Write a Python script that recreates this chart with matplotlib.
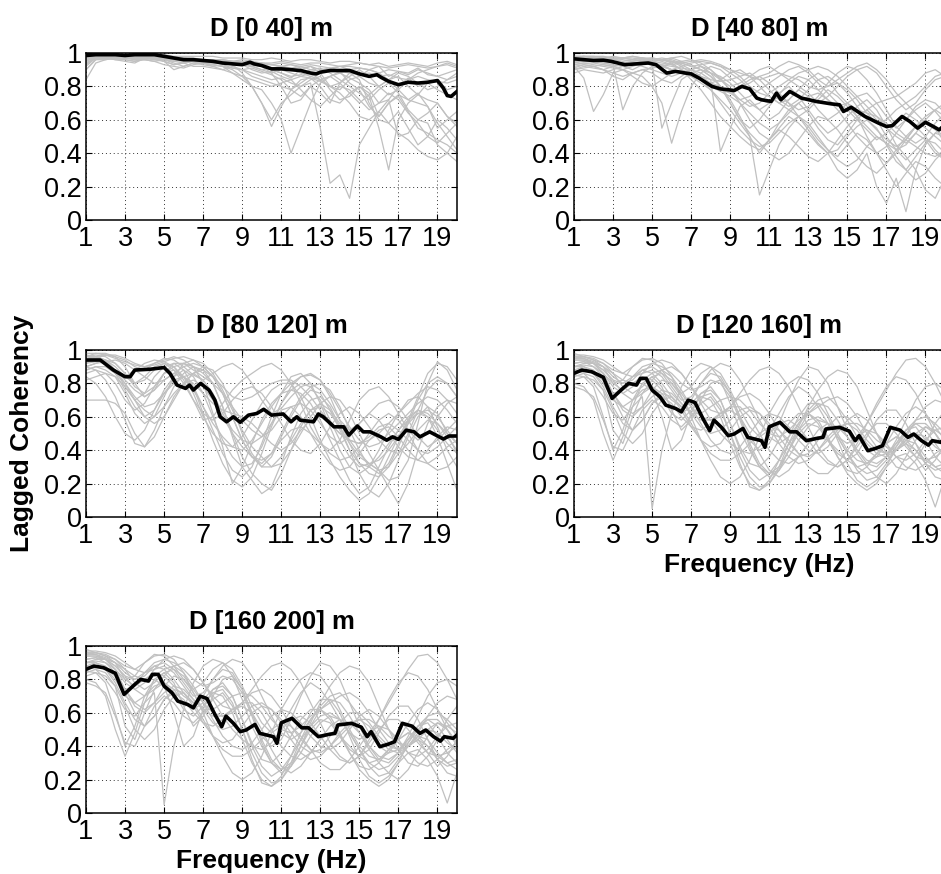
import matplotlib
matplotlib.use('Agg')
import matplotlib.pyplot as plt
import numpy as np

plt.rcParams['font.family'] = ['Liberation Sans', 'DejaVu Sans']

# ---------------- data ----------------
titles = ['D [0 40] m', 'D [40 80] m', 'D [80 120] m', 'D [120 160] m', 'D [160 200] m']
x_ticks = [1, 3, 5, 7, 9, 11, 13, 15, 17, 19]
y_ticks = [0, 0.2, 0.4, 0.6, 0.8, 1]
y_tick_labels = ['0', '0.2', '0.4', '0.6', '0.8', '1']
x_label = 'Frequency (Hz)'
y_label = 'Lagged Coherency'

# mean coherency (black), read at frequency points (Hz)
p1_black_f = [1, 1.5, 2, 2.5, 3, 3.5, 4, 4.5, 5, 5.5, 6, 6.5, 7, 7.5, 8, 8.5, 9, 9.4, 9.6, 10,
              10.5, 11, 11.5, 12, 12.5, 12.8, 13, 13.5, 14, 14.5, 15, 15.5, 15.9, 16.1, 16.5, 17,
              17.5, 18, 18.5, 19, 19.3, 19.5, 19.7, 20]
p1_black_v = [0.985, 0.99, 0.99, 0.99, 0.985, 0.99, 0.99, 0.99, 0.98, 0.97, 0.96, 0.96, 0.955,
              0.95, 0.94, 0.935, 0.93, 0.945, 0.935, 0.925, 0.905, 0.905, 0.90, 0.895, 0.88, 0.875,
              0.885, 0.895, 0.895, 0.895, 0.875, 0.86, 0.87, 0.855, 0.83, 0.81, 0.825, 0.82, 0.825,
              0.835, 0.79, 0.745, 0.74, 0.77]

p2_black_f = [1, 1.5, 2, 2.5, 2.9, 3.6, 4.2, 4.8, 5.2, 5.75, 6.2, 6.7, 7.0, 7.4, 8.06, 8.5, 8.9,
              9.2, 9.6, 10.0, 10.36, 10.6, 11.1, 11.37, 11.6, 12.05, 12.65, 13.4, 14.2, 14.6, 14.8,
              15.2, 15.9, 16.6, 17.0, 17.3, 17.8, 18.2, 18.6, 19.0, 19.4, 19.7, 20]
p2_black_v = [0.965, 0.96, 0.955, 0.957, 0.95, 0.93, 0.935, 0.94, 0.93, 0.88, 0.89, 0.88, 0.875,
              0.85, 0.80, 0.785, 0.78, 0.775, 0.80, 0.785, 0.73, 0.72, 0.71, 0.76, 0.72, 0.77, 0.73,
              0.71, 0.695, 0.69, 0.65, 0.675, 0.62, 0.58, 0.56, 0.565, 0.62, 0.59, 0.55, 0.585,
              0.56, 0.54, 0.57]

p3_black_f = [1, 1.73, 2.4, 3.0, 3.26, 3.5, 4.3, 5.0, 5.3, 5.66, 6.1, 6.3, 6.5, 6.87, 7.3, 7.6,
              7.87, 8.2, 8.55, 8.9, 9.32, 9.75, 10.1, 10.5, 11.1, 11.5, 11.8, 11.96, 12.65, 12.9,
              13.15, 13.7, 14.2, 14.46, 14.9, 15.2, 15.55, 16.1, 16.4, 16.7, 17.0, 17.4, 17.8,
              18.1, 18.6, 19.3, 19.6, 20]
p3_black_v = [0.94, 0.94, 0.88, 0.84, 0.84, 0.88, 0.885, 0.895, 0.86, 0.79, 0.77, 0.79, 0.76,
              0.80, 0.76, 0.70, 0.60, 0.57, 0.60, 0.567, 0.61, 0.62, 0.645, 0.61, 0.617, 0.57,
              0.60, 0.58, 0.57, 0.617, 0.60, 0.54, 0.54, 0.49, 0.545, 0.51, 0.51, 0.48, 0.46, 0.48,
              0.465, 0.52, 0.51, 0.48, 0.51, 0.467, 0.485, 0.485]

p4_black_f = [1, 1.4, 1.9, 2.5, 2.95, 3.5, 3.8, 4.2, 4.4, 4.7, 5.0, 5.4, 5.7, 6.2, 6.5, 6.85, 7.2,
              7.6, 7.95, 8.17, 8.55, 8.9, 9.2, 9.65, 9.9, 10.25, 10.6, 10.78, 11.0, 11.55, 12.05,
              12.4, 12.9, 13.4, 13.75, 13.9, 14.6, 15.1, 15.4, 15.6, 16.05, 16.5, 16.8, 17.2, 17.7,
              18.1, 18.4, 18.8, 19.15, 19.35, 19.8, 20]
p4_black_v = [0.86, 0.88, 0.87, 0.837, 0.71, 0.77, 0.80, 0.79, 0.83, 0.83, 0.76, 0.72, 0.67, 0.65,
              0.63, 0.70, 0.685, 0.59, 0.517, 0.58, 0.537, 0.487, 0.497, 0.53, 0.477, 0.467, 0.457,
              0.417, 0.54, 0.567, 0.51, 0.51, 0.457, 0.47, 0.477, 0.527, 0.537, 0.514, 0.457,
              0.487, 0.397, 0.413, 0.427, 0.537, 0.52, 0.477, 0.497, 0.457, 0.43, 0.457, 0.447,
              0.467]
# the [160 200] m panel shows the same curves as the [120 160] m panel
p5_black_f = p4_black_f
p5_black_v = p4_black_v

# individual pair coherencies (grey), percent, every 0.5 Hz from 1 to 20 Hz
p1_gray_pct = [
    [97, 99, 99, 99, 99, 99, 99, 99, 99, 98, 98, 98, 98, 98, 97, 97, 97, 96, 96, 97, 96, 95, 96, 96, 95, 94, 95, 95, 94, 93, 94, 92, 93, 94, 93, 92, 94, 95, 93],
    [93, 98, 98, 98, 97, 98, 98, 98, 97, 97, 97, 96, 96, 95, 95, 94, 93, 92, 94, 93, 92, 93, 91, 92, 90, 91, 88, 90, 91, 90, 92, 86, 89, 88, 91, 87, 86, 88, 90],
    [84, 94, 96, 97, 96, 95, 97, 97, 95, 93, 94, 95, 94, 93, 92, 91, 90, 88, 86, 84, 85, 82, 80, 84, 86, 78, 72, 74, 80, 76, 62, 70, 75, 72, 70, 68, 55, 60, 65],
    [90, 96, 97, 96, 95, 94, 97, 96, 97, 96, 95, 95, 94, 93, 92, 88, 84, 80, 78, 70, 60, 40, 55, 70, 82, 86, 88, 85, 82, 78, 70, 72, 50, 52, 60, 58, 45, 40, 50],
    [95, 98, 98, 98, 97, 97, 98, 97, 96, 95, 96, 95, 94, 93, 92, 90, 86, 80, 70, 60, 70, 75, 80, 82, 55, 22, 27, 13, 45, 55, 65, 72, 80, 85, 80, 82, 78, 75, 72],
    [96, 98, 97, 98, 98, 97, 98, 98, 97, 96, 96, 95, 95, 94, 94, 93, 88, 80, 70, 56, 68, 78, 84, 85, 80, 72, 70, 76, 80, 74, 55, 30, 60, 70, 75, 72, 70, 62, 58],
    [98, 99, 99, 99, 98, 98, 99, 98, 97, 96, 97, 96, 95, 95, 96, 95, 94, 93, 92, 90, 88, 85, 90, 92, 88, 80, 78, 84, 86, 90, 88, 84, 86, 80, 75, 82, 84, 78, 80],
    [97, 98, 98, 97, 98, 96, 97, 97, 96, 94, 92, 94, 93, 92, 93, 91, 90, 91, 89, 87, 84, 78, 82, 86, 84, 86, 89, 82, 78, 68, 62, 70, 74, 65, 55, 52, 48, 45, 40],
    [96, 98, 99, 98, 98, 98, 97, 96, 95, 90, 92, 94, 95, 94, 95, 94, 93, 92, 90, 88, 90, 88, 86, 85, 83, 80, 76, 70, 62, 60, 65, 58, 52, 48, 42, 38, 36, 40, 35],
    [92, 97, 97, 98, 98, 97, 98, 98, 97, 96, 95, 96, 95, 95, 94, 94, 93, 92, 93, 93, 92, 91, 92, 90, 89, 90, 89, 88, 87, 88, 86, 87, 85, 84, 86, 84, 83, 82, 84],
    [95, 98, 98, 97, 98, 98, 98, 97, 96, 97, 96, 95, 95, 94, 95, 94, 93, 90, 88, 89, 86, 84, 86, 88, 84, 80, 82, 86, 90, 86, 80, 75, 78, 84, 88, 90, 92, 94, 92],
    [94, 97, 98, 98, 97, 97, 96, 97, 95, 93, 94, 95, 96, 96, 95, 95, 94, 93, 92, 88, 80, 70, 72, 80, 76, 70, 82, 88, 84, 70, 60, 58, 65, 55, 45, 50, 60, 55, 48],
    [97, 99, 99, 99, 99, 99, 99, 98, 98, 97, 97, 97, 96, 96, 96, 95, 95, 94, 94, 93, 94, 93, 92, 93, 92, 91, 92, 92, 91, 90, 88, 90, 89, 87, 90, 88, 86, 84, 88],
    [93, 97, 97, 96, 96, 95, 96, 95, 96, 95, 94, 92, 92, 91, 90, 92, 90, 86, 84, 82, 80, 78, 74, 80, 84, 86, 82, 76, 70, 75, 80, 84, 78, 72, 76, 68, 58, 50, 42],
    [96, 98, 98, 97, 97, 98, 98, 97, 97, 96, 95, 96, 96, 95, 94, 93, 94, 92, 90, 91, 92, 90, 88, 86, 88, 90, 92, 90, 86, 82, 80, 84, 88, 86, 82, 78, 80, 84, 86],
    [94, 97, 97, 98, 97, 96, 97, 98, 98, 97, 96, 95, 95, 96, 95, 94, 94, 93, 92, 90, 88, 86, 87, 90, 91, 88, 84, 80, 76, 72, 78, 82, 76, 66, 60, 64, 70, 62, 56],
    [98, 99, 99, 98, 99, 99, 98, 98, 98, 97, 97, 96, 96, 96, 95, 95, 96, 95, 94, 94, 95, 94, 93, 94, 94, 93, 92, 93, 94, 93, 92, 91, 92, 93, 92, 91, 92, 93, 91],
    [90, 96, 96, 97, 97, 96, 96, 95, 93, 92, 91, 93, 94, 92, 90, 88, 86, 84, 82, 80, 82, 84, 78, 72, 68, 74, 80, 78, 72, 66, 70, 76, 72, 64, 58, 50, 46, 52, 58],
]

p2_gray_pct = [
    [92, 85, 65, 75, 88, 90, 92, 94, 95, 96, 97, 98, 96, 92, 88, 84, 80, 82, 86, 90, 92, 88, 84, 80, 76, 70, 74, 80, 86, 90, 92, 88, 80, 72, 66, 70, 78, 84, 86],
    [97, 98, 98, 97, 96, 95, 96, 97, 97, 96, 95, 94, 92, 93, 94, 92, 88, 84, 78, 72, 70, 75, 82, 86, 84, 78, 72, 68, 70, 74, 76, 70, 62, 55, 60, 66, 70, 65, 58],
    [95, 96, 95, 94, 93, 66, 80, 88, 92, 93, 90, 88, 86, 82, 78, 72, 66, 58, 50, 40, 48, 58, 66, 70, 64, 55, 48, 45, 52, 60, 66, 60, 50, 42, 45, 52, 48, 40, 36],
    [98, 98, 97, 96, 97, 96, 95, 96, 94, 55, 70, 84, 88, 90, 86, 80, 72, 62, 50, 15, 30, 45, 55, 62, 58, 50, 42, 38, 45, 52, 48, 40, 30, 20, 28, 35, 32, 25, 20],
    [93, 94, 93, 92, 91, 90, 88, 86, 80, 70, 46, 65, 80, 88, 92, 90, 85, 80, 82, 86, 88, 92, 95, 93, 90, 84, 80, 84, 88, 92, 94, 90, 84, 76, 70, 74, 80, 86, 88],
    [90, 92, 91, 90, 92, 93, 94, 92, 90, 88, 86, 88, 90, 92, 90, 85, 78, 70, 60, 52, 48, 55, 62, 58, 52, 45, 40, 42, 50, 56, 60, 55, 45, 35, 30, 38, 46, 52, 50],
    [96, 97, 96, 95, 96, 97, 96, 95, 94, 93, 92, 91, 90, 88, 84, 41, 55, 68, 72, 66, 60, 64, 72, 78, 74, 66, 60, 64, 70, 62, 50, 40, 34, 40, 48, 56, 60, 55, 46],
    [94, 95, 95, 96, 95, 94, 93, 95, 96, 97, 96, 94, 92, 90, 88, 86, 82, 76, 70, 66, 70, 74, 70, 62, 54, 46, 40, 30, 25, 30, 40, 20, 10, 25, 5, 30, 45, 52, 58],
    [88, 90, 89, 88, 90, 92, 93, 94, 93, 92, 90, 88, 86, 84, 82, 80, 76, 72, 74, 78, 82, 86, 90, 92, 88, 82, 76, 70, 66, 60, 54, 48, 52, 58, 64, 60, 55, 50, 45],
    [97, 98, 98, 98, 97, 97, 98, 97, 96, 96, 97, 95, 93, 90, 86, 80, 70, 60, 55, 60, 68, 76, 80, 74, 66, 58, 52, 56, 62, 68, 72, 66, 56, 45, 38, 30, 18, 13, 25],
    [95, 96, 96, 95, 94, 94, 95, 96, 97, 96, 94, 90, 84, 78, 70, 62, 56, 50, 45, 42, 48, 54, 50, 44, 38, 35, 40, 48, 56, 62, 66, 70, 72, 74, 78, 82, 88, 90, 86],
    [93, 94, 94, 93, 92, 93, 94, 95, 94, 92, 90, 92, 94, 95, 94, 92, 90, 88, 86, 84, 86, 88, 86, 84, 80, 78, 80, 82, 78, 72, 64, 58, 60, 66, 70, 64, 58, 54, 50],
    [96, 97, 96, 96, 97, 97, 97, 96, 95, 94, 93, 94, 95, 96, 95, 93, 90, 86, 80, 76, 74, 70, 66, 62, 66, 72, 78, 74, 68, 62, 56, 50, 46, 42, 36, 42, 48, 46, 40],
    [91, 93, 92, 90, 88, 86, 88, 90, 91, 92, 94, 95, 96, 94, 90, 84, 78, 72, 68, 70, 76, 80, 84, 88, 90, 92, 90, 86, 80, 74, 68, 62, 55, 50, 46, 52, 60, 66, 70],
    [94, 96, 97, 96, 95, 92, 90, 93, 95, 96, 95, 93, 90, 86, 82, 78, 76, 80, 84, 86, 82, 76, 70, 66, 68, 74, 82, 88, 92, 90, 84, 76, 66, 56, 50, 46, 50, 58, 64],
    [98, 98, 97, 97, 98, 97, 96, 97, 96, 95, 93, 90, 87, 84, 80, 77, 74, 70, 64, 58, 54, 58, 64, 70, 74, 76, 72, 66, 58, 50, 44, 40, 44, 52, 60, 68, 72, 70, 64],
    [92, 93, 92, 90, 86, 84, 88, 90, 88, 84, 82, 86, 90, 92, 88, 80, 70, 60, 52, 46, 40, 36, 40, 48, 56, 62, 60, 54, 46, 38, 32, 28, 34, 42, 50, 56, 50, 42, 36],
    [96, 97, 97, 96, 96, 97, 98, 97, 95, 92, 90, 89, 88, 86, 84, 83, 84, 86, 88, 84, 78, 72, 68, 72, 78, 84, 86, 82, 76, 68, 60, 54, 48, 44, 48, 56, 62, 66, 62],
    [90, 91, 92, 93, 92, 90, 86, 82, 80, 84, 88, 90, 88, 84, 78, 70, 62, 54, 48, 44, 46, 52, 58, 62, 56, 48, 42, 36, 32, 36, 44, 50, 46, 38, 30, 24, 28, 36, 42],
    [97, 96, 95, 94, 93, 92, 93, 94, 95, 96, 95, 92, 88, 84, 82, 84, 88, 90, 86, 80, 74, 70, 72, 78, 84, 88, 84, 76, 70, 66, 64, 62, 58, 52, 48, 44, 40, 38, 42],
]

p3_gray_pct = [
    [92, 95, 97, 96, 94, 90, 88, 92, 95, 94, 90, 85, 82, 86, 90, 92, 88, 80, 70, 62, 65, 72, 78, 80, 76, 68, 58, 52, 56, 62, 68, 70, 66, 58, 48, 42, 46, 52, 58],
    [70, 70, 70, 68, 62, 50, 42, 48, 60, 72, 80, 86, 90, 88, 80, 66, 50, 38, 30, 36, 48, 60, 70, 76, 74, 64, 52, 40, 32, 30, 36, 44, 52, 58, 62, 60, 52, 44, 38],
    [96, 97, 96, 92, 86, 80, 82, 88, 92, 90, 84, 76, 66, 56, 48, 42, 40, 46, 56, 66, 74, 80, 84, 85, 82, 74, 64, 54, 46, 42, 44, 50, 56, 62, 68, 72, 70, 64, 56],
    [90, 88, 82, 72, 58, 44, 42, 52, 66, 78, 86, 90, 88, 80, 66, 50, 36, 26, 20, 16, 26, 40, 54, 64, 68, 64, 56, 46, 38, 32, 28, 30, 38, 50, 64, 76, 82, 80, 72],
    [94, 96, 97, 97, 95, 92, 90, 92, 94, 96, 94, 90, 80, 62, 42, 20, 30, 44, 58, 68, 74, 76, 74, 68, 58, 46, 34, 22, 14, 18, 30, 42, 52, 60, 64, 62, 56, 48, 40],
    [98, 98, 97, 95, 93, 91, 90, 91, 93, 95, 96, 94, 90, 84, 78, 72, 70, 72, 76, 80, 82, 82, 78, 72, 64, 56, 50, 46, 44, 46, 50, 56, 62, 68, 74, 78, 76, 70, 62],
    [84, 80, 72, 60, 50, 46, 52, 64, 76, 84, 88, 84, 74, 60, 46, 36, 30, 32, 42, 56, 68, 76, 80, 78, 70, 58, 46, 36, 30, 32, 28, 18, 8, 20, 40, 56, 66, 70, 68],
    [95, 96, 94, 88, 78, 70, 74, 84, 90, 92, 88, 78, 62, 46, 32, 22, 18, 24, 38, 54, 68, 78, 84, 86, 82, 72, 58, 44, 32, 26, 24, 30, 42, 56, 70, 80, 84, 80, 72],
    [90, 92, 93, 94, 92, 88, 84, 80, 82, 86, 90, 92, 90, 84, 74, 60, 46, 36, 32, 38, 50, 62, 72, 78, 80, 76, 66, 52, 40, 30, 26, 32, 44, 58, 72, 86, 92, 90, 82],
    [97, 96, 92, 86, 84, 88, 92, 94, 93, 90, 82, 70, 58, 60, 68, 76, 82, 86, 90, 92, 88, 80, 68, 54, 44, 40, 46, 58, 70, 76, 78, 72, 62, 52, 46, 50, 60, 68, 72],
    [88, 90, 88, 84, 74, 62, 56, 60, 72, 84, 92, 94, 92, 86, 76, 64, 52, 42, 36, 30, 32, 40, 50, 60, 68, 72, 70, 62, 50, 38, 28, 22, 24, 34, 56, 80, 93, 88, 76],
    [93, 94, 92, 86, 76, 66, 60, 64, 74, 82, 84, 78, 66, 52, 38, 28, 24, 30, 44, 60, 74, 84, 86, 80, 68, 54, 40, 30, 26, 30, 40, 52, 62, 70, 72, 66, 54, 40, 30],
    [96, 98, 98, 96, 90, 80, 72, 76, 86, 92, 92, 88, 84, 80, 66, 48, 30, 22, 14, 18, 32, 48, 62, 70, 72, 66, 54, 40, 26, 16, 12, 20, 34, 48, 60, 66, 62, 50, 38],
    [86, 88, 86, 80, 70, 64, 68, 78, 86, 88, 84, 74, 60, 50, 44, 42, 48, 58, 68, 76, 80, 80, 72, 60, 46, 34, 24, 16, 10, 14, 24, 36, 48, 58, 64, 60, 48, 32, 16],
    [90, 92, 94, 92, 86, 78, 74, 78, 86, 90, 92, 90, 86, 80, 74, 66, 58, 52, 48, 52, 60, 66, 68, 64, 56, 48, 44, 48, 56, 62, 58, 50, 42, 36, 34, 40, 48, 54, 52],
    [96, 96, 94, 90, 84, 80, 84, 90, 92, 88, 80, 70, 62, 58, 62, 70, 76, 78, 74, 66, 56, 46, 40, 38, 44, 54, 62, 66, 62, 54, 46, 40, 38, 44, 52, 58, 56, 50, 44],
    [82, 84, 86, 84, 78, 70, 64, 60, 66, 74, 80, 82, 78, 70, 60, 50, 42, 36, 34, 38, 46, 52, 54, 50, 44, 38, 34, 36, 42, 50, 58, 62, 58, 50, 40, 32, 28, 30, 36],
    [94, 95, 93, 88, 82, 76, 72, 76, 82, 86, 84, 80, 74, 68, 64, 62, 60, 56, 50, 44, 40, 44, 52, 58, 60, 56, 50, 46, 44, 48, 54, 56, 52, 46, 40, 38, 42, 48, 54],
    [88, 90, 90, 86, 80, 72, 66, 68, 74, 80, 84, 86, 82, 74, 62, 52, 46, 44, 48, 56, 64, 66, 60, 50, 40, 32, 28, 30, 38, 46, 52, 54, 48, 40, 34, 32, 36, 42, 46],
    [92, 93, 92, 88, 80, 70, 60, 56, 60, 70, 80, 86, 88, 84, 74, 60, 46, 36, 30, 30, 36, 46, 56, 64, 66, 62, 54, 44, 36, 32, 34, 40, 48, 56, 62, 64, 60, 52, 44],
]

p4_gray_pct = [
    [98, 96, 94, 90, 80, 82, 90, 95, 94, 88, 80, 74, 78, 86, 90, 86, 76, 64, 54, 48, 52, 62, 72, 78, 74, 66, 56, 48, 44, 48, 56, 66, 76, 86, 94, 95, 90, 80, 68],
    [90, 92, 92, 86, 74, 76, 84, 88, 86, 80, 72, 66, 70, 80, 88, 92, 90, 82, 70, 58, 48, 44, 48, 56, 64, 70, 72, 66, 58, 48, 40, 36, 38, 44, 52, 58, 60, 56, 50],
    [85, 84, 78, 60, 40, 52, 70, 80, 76, 60, 40, 46, 62, 74, 78, 70, 56, 40, 28, 22, 26, 34, 44, 52, 58, 60, 56, 48, 38, 30, 26, 28, 34, 40, 44, 40, 32, 28, 30],
    [95, 96, 94, 92, 88, 86, 90, 94, 95, 92, 84, 72, 60, 46, 34, 24, 20, 24, 34, 48, 62, 72, 80, 84, 82, 74, 62, 50, 40, 34, 32, 36, 44, 54, 62, 66, 62, 54, 46],
    [80, 78, 70, 50, 34, 48, 66, 80, 84, 78, 64, 52, 58, 70, 80, 82, 74, 60, 44, 32, 26, 28, 36, 46, 54, 58, 56, 48, 38, 28, 22, 24, 32, 40, 46, 44, 36, 30, 26],
    [92, 93, 92, 88, 82, 80, 84, 90, 92, 90, 86, 80, 76, 78, 82, 80, 72, 58, 42, 30, 24, 28, 40, 54, 66, 76, 84, 88, 86, 78, 64, 50, 38, 30, 28, 34, 44, 56, 64],
    [88, 86, 80, 72, 62, 58, 66, 72, 5, 40, 62, 78, 88, 92, 90, 82, 68, 52, 40, 30, 26, 30, 40, 52, 62, 68, 66, 58, 48, 38, 30, 24, 20, 26, 36, 46, 54, 50, 42],
    [96, 95, 92, 86, 78, 74, 78, 86, 92, 94, 92, 86, 78, 70, 64, 62, 66, 74, 82, 88, 90, 86, 78, 66, 54, 42, 34, 30, 34, 44, 56, 68, 78, 84, 82, 74, 62, 50, 40],
    [78, 76, 72, 58, 42, 40, 52, 64, 70, 66, 58, 54, 60, 68, 72, 64, 50, 36, 24, 18, 20, 28, 40, 50, 56, 54, 46, 36, 26, 20, 16, 20, 30, 42, 52, 54, 46, 36, 30],
    [90, 91, 90, 86, 80, 76, 80, 84, 82, 76, 70, 66, 68, 74, 76, 70, 56, 42, 32, 30, 36, 46, 56, 62, 62, 56, 46, 38, 34, 38, 48, 58, 64, 64, 56, 44, 32, 24, 22],
    [94, 94, 92, 90, 84, 80, 82, 88, 90, 86, 78, 70, 72, 80, 86, 84, 74, 60, 46, 40, 44, 56, 70, 82, 90, 88, 80, 66, 52, 40, 32, 30, 36, 46, 58, 70, 78, 80, 76],
    [84, 86, 84, 76, 52, 44, 60, 74, 78, 72, 62, 58, 64, 72, 74, 66, 50, 32, 18, 16, 22, 34, 48, 60, 68, 68, 60, 46, 32, 22, 18, 22, 30, 36, 38, 32, 22, 6, 24],
    [97, 97, 96, 94, 90, 86, 84, 86, 88, 84, 76, 68, 62, 62, 66, 70, 72, 70, 64, 56, 50, 48, 52, 58, 62, 66, 70, 72, 68, 60, 50, 42, 38, 40, 48, 58, 66, 70, 68],
    [86, 88, 86, 80, 70, 66, 70, 76, 78, 74, 66, 62, 66, 72, 70, 60, 44, 30, 20, 16, 20, 30, 44, 56, 62, 58, 48, 36, 28, 26, 30, 38, 44, 48, 44, 36, 28, 34, 44],
    [92, 93, 90, 84, 74, 64, 60, 66, 76, 82, 80, 72, 62, 54, 50, 52, 58, 64, 66, 62, 54, 44, 36, 32, 34, 40, 48, 54, 56, 52, 44, 38, 36, 40, 46, 50, 48, 42, 38],
    [88, 90, 88, 82, 72, 60, 52, 58, 68, 74, 72, 64, 54, 46, 42, 44, 52, 60, 64, 62, 56, 48, 40, 36, 38, 46, 54, 60, 60, 54, 46, 40, 38, 42, 50, 56, 56, 50, 42],
    [94, 94, 92, 88, 82, 74, 70, 74, 82, 88, 90, 86, 78, 68, 58, 50, 44, 40, 38, 42, 50, 56, 58, 54, 46, 38, 32, 30, 34, 42, 50, 56, 56, 50, 42, 36, 34, 36, 40],
    [82, 84, 82, 76, 64, 50, 44, 50, 62, 70, 72, 66, 56, 46, 38, 34, 34, 38, 44, 50, 54, 52, 46, 38, 30, 26, 26, 32, 40, 48, 52, 50, 44, 36, 30, 28, 32, 38, 42],
    [96, 96, 95, 92, 86, 78, 74, 78, 84, 86, 82, 74, 66, 60, 58, 60, 66, 72, 74, 70, 62, 52, 44, 38, 36, 40, 46, 52, 56, 56, 52, 46, 42, 40, 44, 50, 54, 52, 48],
    [86, 88, 86, 82, 74, 66, 62, 66, 72, 76, 74, 68, 62, 58, 58, 62, 66, 66, 60, 50, 40, 34, 32, 36, 44, 52, 56, 54, 48, 40, 34, 32, 36, 44, 52, 56, 52, 44, 36],
    [90, 90, 86, 78, 66, 56, 52, 58, 68, 72, 68, 60, 54, 52, 56, 62, 64, 60, 50, 38, 28, 24, 28, 36, 44, 48, 46, 40, 34, 30, 32, 38, 44, 48, 46, 40, 34, 30, 32],
    [95, 95, 93, 90, 86, 82, 80, 82, 86, 88, 84, 76, 66, 56, 46, 40, 38, 42, 50, 58, 62, 60, 54, 46, 40, 38, 42, 50, 58, 62, 58, 50, 42, 36, 34, 38, 46, 52, 54],
]
p5_gray_pct = p4_gray_pct

# ---------------- figure ----------------
W, H = 941, 874
fig = plt.figure(figsize=(W / 100, H / 100), dpi=100)


def add_ax(left, top, right, bottom):
    return fig.add_axes([left / W, 1 - bottom / H, (right - left) / W, (bottom - top) / H])


layout = [  # left, top, right, bottom in pixels
    (86, 53, 457, 220),
    (574, 53, 945, 220),
    (86, 350, 457, 517),
    (574, 350, 945, 517),
    (86, 646, 457, 813),
]
blacks = [(p1_black_f, p1_black_v), (p2_black_f, p2_black_v), (p3_black_f, p3_black_v),
          (p4_black_f, p4_black_v), (p5_black_f, p5_black_v)]
grays = [p1_gray_pct, p2_gray_pct, p3_gray_pct, p4_gray_pct, p5_gray_pct]

for i, (pos, title, (bf, bv), gray) in enumerate(zip(layout, titles, blacks, grays)):
    ax = add_ax(*pos)
    ax.set_axisbelow(True)
    for g in gray:
        gx = np.linspace(1, 20, len(g))
        ax.plot(gx, np.array(g) / 100.0, color='#c0c0c0', lw=0.9, zorder=2)
    ax.plot(bf, bv, color='black', lw=2.6, zorder=3)
    ax.set_xlim(1, 20)
    ax.set_ylim(0, 1)
    ax.set_xticks(x_ticks)
    ax.set_xticklabels([str(t) for t in x_ticks])
    ax.set_yticks(y_ticks)
    ax.set_yticklabels(y_tick_labels)
    ax.grid(True, linestyle=(0, (1, 3)), color='0.2', linewidth=0.7)
    ax.tick_params(direction='in', top=True, right=True, length=4, width=0.8,
                   labelsize=19.5)
    ax.tick_params(axis='x', pad=4)
    ax.tick_params(axis='y', pad=3)
    for s in ax.spines.values():
        s.set_linewidth(1.1)
    ax.set_title(title, fontsize=18.5, fontweight='bold', pad=12.5)
    if i in (3, 4):
        ax.set_xlabel(x_label, fontsize=19, fontweight='bold', labelpad=3)
    if i == 2:
        ax.set_ylabel(y_label, fontsize=19, fontweight='bold', labelpad=7)

fig.savefig('out.png', dpi=100)
